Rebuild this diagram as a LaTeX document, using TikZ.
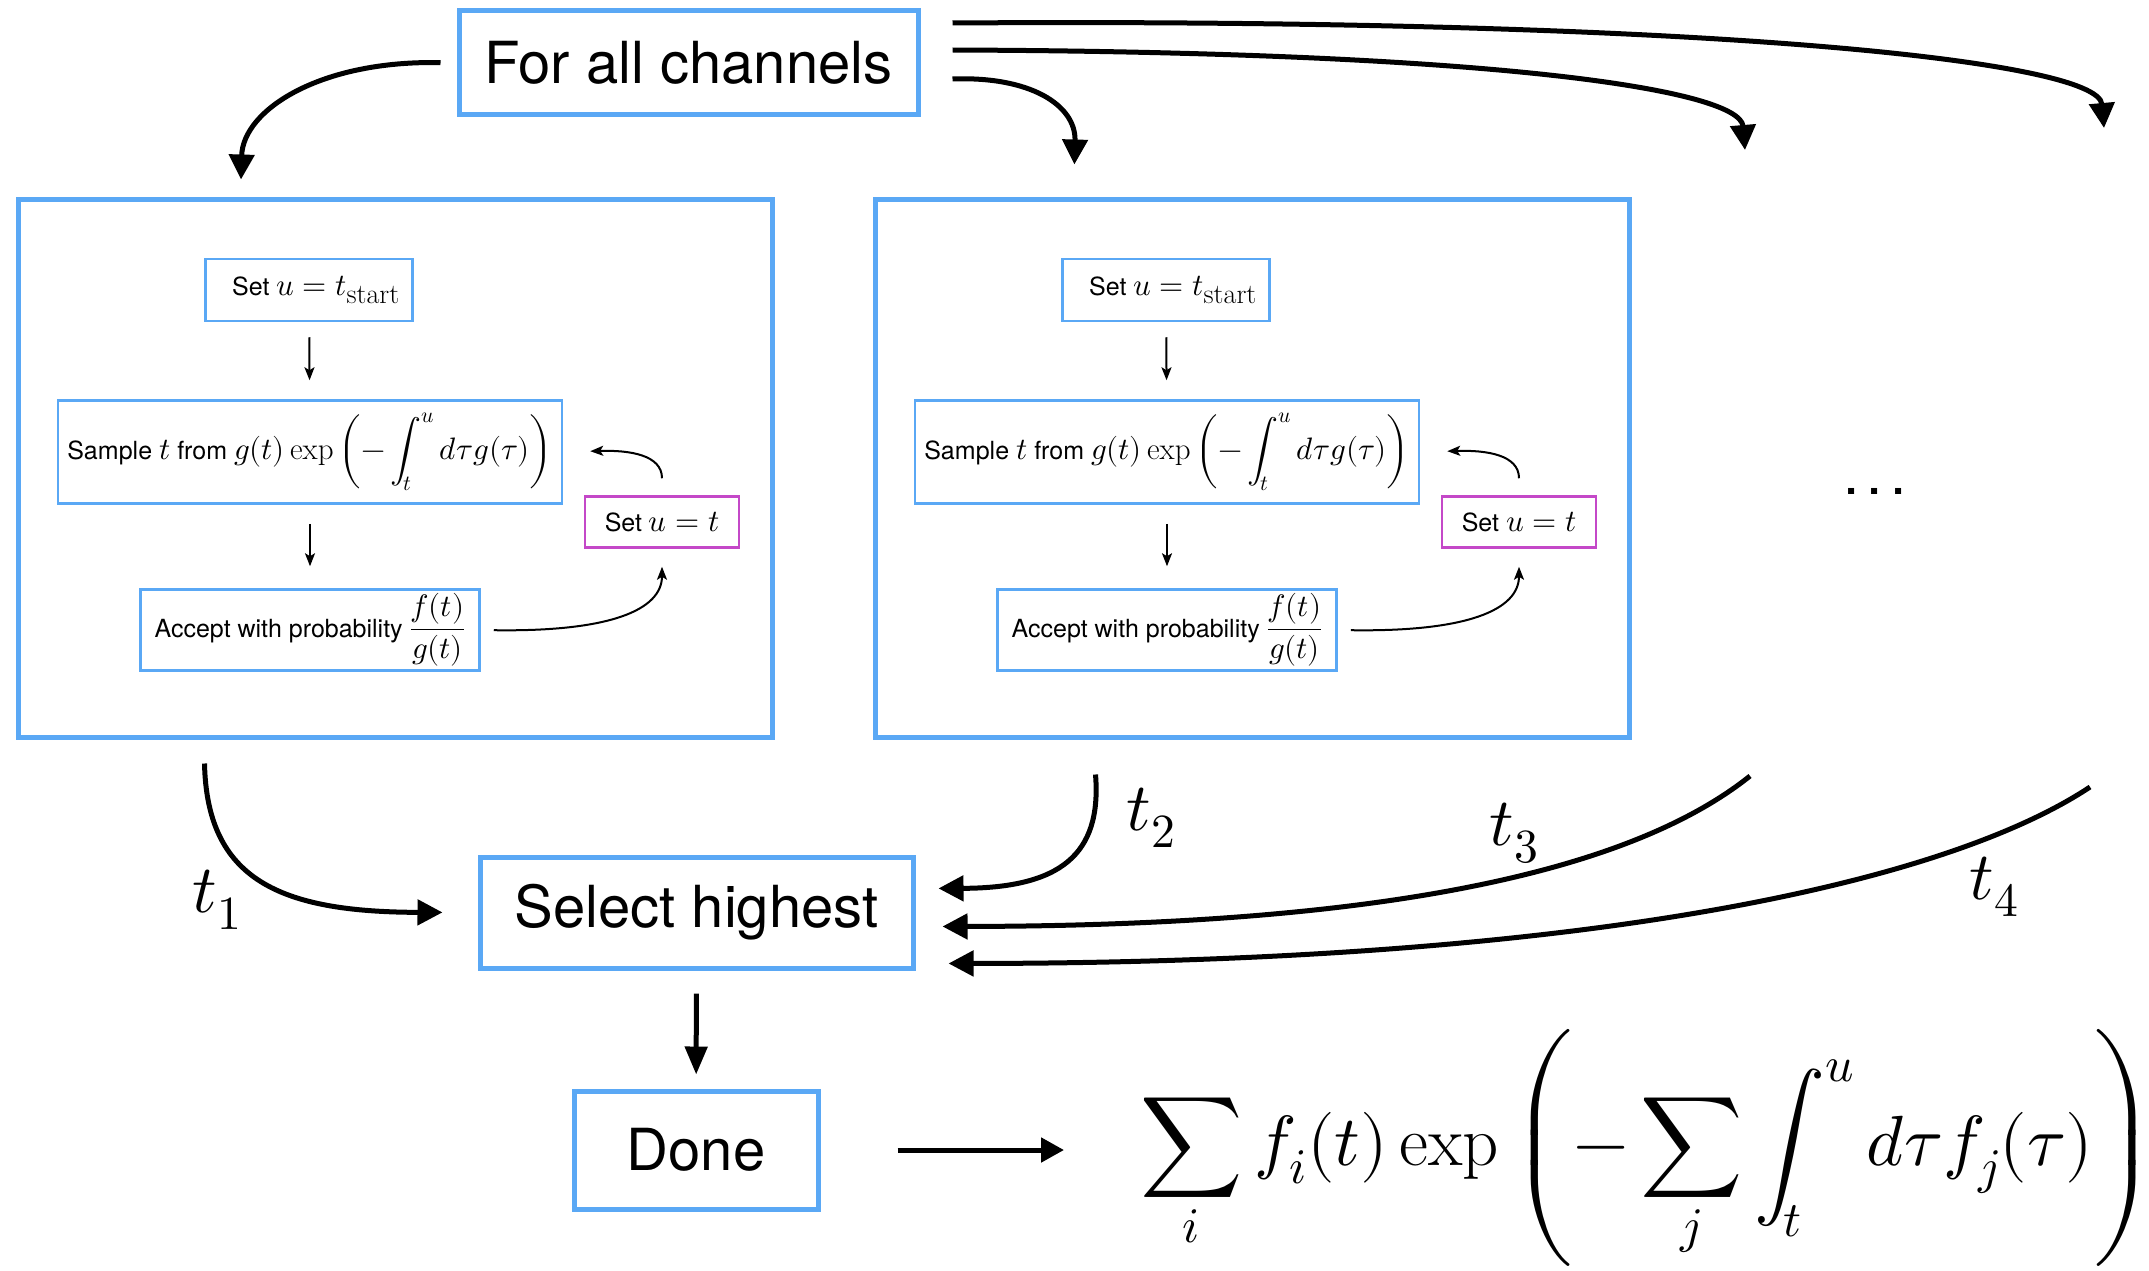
\documentclass[tikz,border=0pt]{standalone}
\usepackage{amsmath}
\usepackage{fontspec}
\usepackage{unicode-math}
\setmathfont{Latin Modern Math}
\newfontfamily\hv{TeX Gyre Heros}
\usetikzlibrary{arrows.meta,calc}
\definecolor{boxblue}{RGB}{90,168,245}
\definecolor{boxpink}{RGB}{196,72,200}
% math inside the small step boxes is set a little larger than the text
\newcommand\mth[1]{{\fontsize{31}{37}\selectfont$\displaystyle #1$}}
% roman subscript label
\newcommand\subtxt[1]{\hbox{\fontsize{28}{32}\selectfont\rmfamily #1}}
% one rejection-sampling channel; #1 = name prefix, #2 = horizontal shift
\newcommand\channel[2]{%
\begin{scope}[xshift=#2]
  \node[frame, minimum width=754pt, minimum height=538pt] (#1box) at (395,468) {};
  \node[stepbox, minimum width=207pt, minimum height=62pt] (#1start) at (309,290)
    {\hspace*{14pt}Set \mth{u=t_{\subtxt{start}}}};
  \node[stepbox, minimum width=504pt, minimum height=103pt] (#1sample) at (310,452)
    {Sample \mth{t} from \mth{g(t)\exp\left(-\int_t^u d\tau g(\tau)\right)}};
  \node[stepbox, minimum width=339pt, minimum height=81pt] (#1accept) at (310,630)
    {Accept with probability \mth{\frac{f(t)}{g(t)}}};
  \node[loopbox, minimum width=154pt, minimum height=51pt] (#1setu) at (662,522)
    {Set \mth{u=t}};
  \draw[smallarrow, shorten <=15pt, shorten >=19pt] (#1start) -- (#1sample);
  \draw[smallarrow, shorten <=19pt, shorten >=22pt] (#1sample) -- (#1accept);
  \draw[smallarrow, shorten <=13pt, shorten >=18pt]
    (#1accept.east) .. controls (610,632) and (662,610) .. (#1setu.south);
  \draw[smallarrow, shorten <=17pt, shorten >=27pt]
    (#1setu.north) .. controls (662,455) and (630,450) .. (#1sample.east);
\end{scope}}

\begin{document}
\begin{tikzpicture}[x=1pt,y=-1pt,
  bigbox/.style={draw=boxblue, line width=5pt, inner sep=0pt,
    font=\hv\fontsize{58}{66}\selectfont},
  frame/.style={draw=boxblue, line width=5pt, inner sep=0pt},
  stepbox/.style={draw=boxblue, line width=2.5pt, inner sep=0pt,
    font=\hv\fontsize{25}{30}\selectfont},
  loopbox/.style={stepbox, draw=boxpink},
  bigarrow/.style={line width=5pt, -{Triangle[length=25pt,width=25pt]}},
  downarrow/.style={line width=5pt, -{Triangle[length=28pt,width=22pt]}},
  outarrow/.style={line width=5pt, -{Triangle[length=23pt,width=24pt]}},
  smallarrow/.style={line width=2pt, -{Stealth[length=13pt,width=10pt,inset=3pt]}},
  tlabel/.style={font=\fontsize{68}{80}\selectfont, inner sep=0pt},
]
\useasboundingbox (0,0) rectangle (2149,1271);

% top: fan-out to all channels
\node[bigbox, minimum width=459pt, minimum height=104pt] (forall) at (688.5,63) {For all channels};

\channel{a}{0pt}
\channel{b}{857pt}

\node[font=\hv\fontsize{58}{66}\selectfont, inner sep=0pt] (more) at (1875,491) {.\kern7pt.\kern7pt.};

% free ends of the channels that are not drawn
\coordinate (c3in) at (1745,150);
\coordinate (c4in) at (2104,128);
\coordinate (c3out) at (1750,776);
\coordinate (c4out) at (2090,787);

\draw[bigarrow, shorten <=16pt, shorten >=17pt]
  (forall.west) .. controls (320,60) and (243,110) .. ($(abox.north west)+(225,0)$);
\draw[bigarrow, shorten >=32pt]
  ($(forall.east)+(32,16)$) .. controls (1030,76) and (1076,105) .. ($(bbox.north west)+(201,0)$);
\draw[bigarrow]
  ($(forall.east)+(32,-13)$) .. controls (1500,52) and (1740,90) .. (c3in);
\draw[bigarrow]
  ($(forall.east)+(32,-40)$) .. controls (1700,18) and (2098,60) .. (c4in);

% collecting the proposed times
\node[bigbox, minimum width=433pt, minimum height=111pt] (sel) at (696.5,912.5) {Select highest};
\node[bigbox, minimum width=244pt, minimum height=118pt] (done) at (696,1150) {Done};

\draw[bigarrow, shorten >=35pt]
  ($(abox.south west)+(189,24)$) .. controls (207,880) and (280,912) .. (sel.west);
\draw[bigarrow, shorten >=23pt]
  ($(bbox.south west)+(223,35)$) .. controls (1102,855) and (1060,888) .. ([yshift=24pt]sel.east);
\draw[bigarrow, shorten >=27pt]
  (c3out) .. controls (1620,880) and (1350,926) .. ([yshift=-14pt]sel.east);
\draw[bigarrow, shorten >=33pt]
  (c4out) .. controls (1950,880) and (1600,963) .. ([yshift=-51pt]sel.east);

\node[tlabel] (l1) at (217,900) {$t_1$};
\node[tlabel] (l2) at (1151,818) {$t_2$};
\node[tlabel] (l3) at (1514,833) {$t_3$};
\node[tlabel] (l4) at (1994,887) {$t_4$};

\draw[downarrow, shorten <=23pt, shorten >=14pt] (sel) -- (done);

% resulting distribution
\node[anchor=west, inner sep=0pt, font=\fontsize{71}{84}\selectfont] (formula) at (1140,1148)
  {$\displaystyle \sum_i f_i(t)\exp\left(\vrule height 1.95em depth 1.45em width 0pt
     -\sum_j\int_t^u d\tau f_j(\tau)\right)$};

\draw[outarrow, shorten <=77pt, shorten >=76pt] (done.east) -- (done.east -| formula.west);
\end{tikzpicture}
\end{document}
